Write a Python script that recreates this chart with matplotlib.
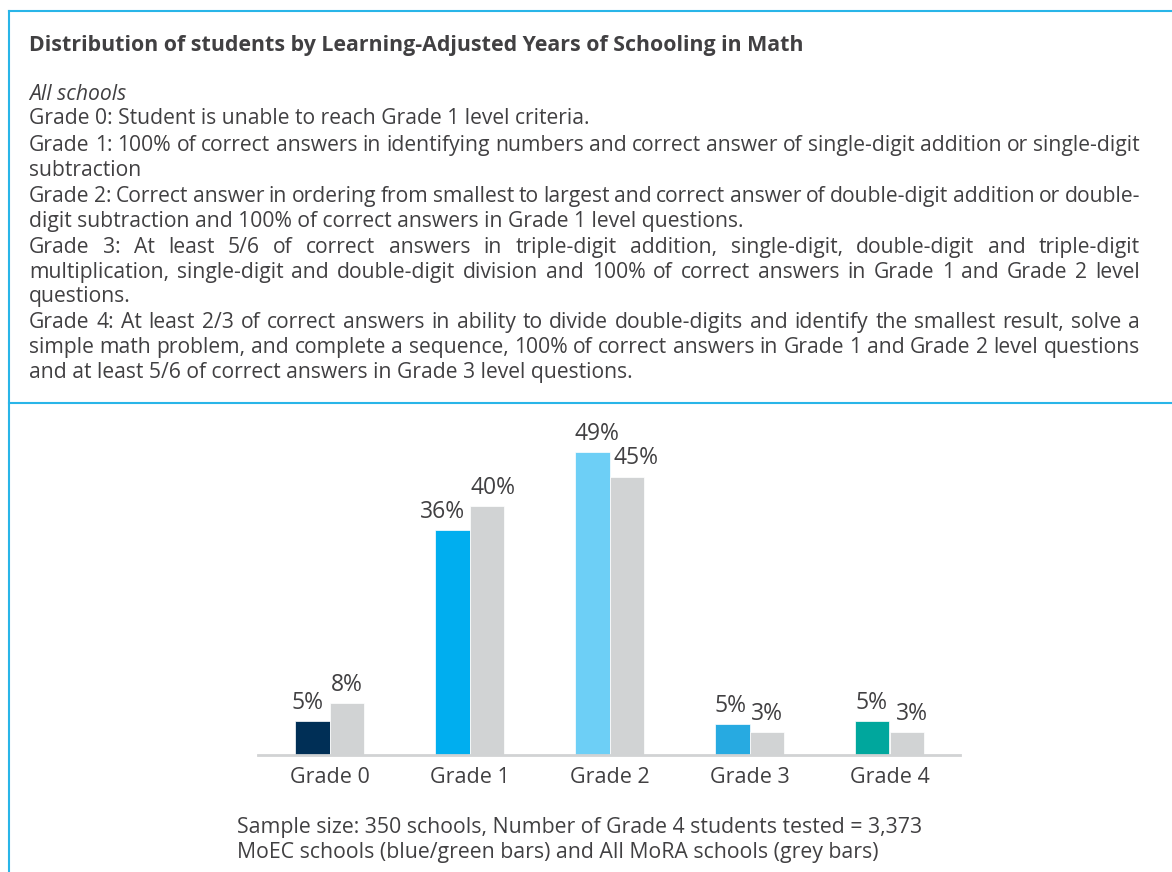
"""
Distribution of students by Learning-Adjusted Years of Schooling in Math.
Boxed header with justified definitions, grouped bar chart below.
"""

import matplotlib
matplotlib.use("Agg")
import matplotlib.pyplot as plt
import numpy as np
from matplotlib.lines import Line2D

# ----------------------------------------------------------------------------
# Data
# ----------------------------------------------------------------------------
categories = ["Grade 0", "Grade 1", "Grade 2", "Grade 3", "Grade 4"]
moec_values = [5.5, 36.4, 49.0, 5.0, 5.5]
mora_values = [8.4, 40.3, 45.0, 3.7, 3.7]
moec_labels = ["5%", "36%", "49%", "5%", "5%"]
mora_labels = ["8%", "40%", "45%", "3%", "3%"]
moec_colors = ["#002F56", "#00AEEF", "#6DCFF6", "#27AAE1", "#00A79D"]
mora_color = "#D1D3D4"

title = "Distribution of students by Learning-Adjusted Years of Schooling in Math"
subtitle = "All schools"
# (line, justified?)
definition_lines = [
    ("Grade 0: Student is unable to reach Grade 1 level criteria.", False),
    ("Grade 1: 100% of correct answers in identifying numbers and correct answer of single-digit addition or single-digit", True),
    ("subtraction", False),
    ("Grade 2: Correct answer in ordering from smallest to largest and correct answer of double-digit addition or double-", True),
    ("digit subtraction and 100% of correct answers in Grade 1 level questions.", False),
    ("Grade 3: At least 5/6 of correct answers in triple-digit addition, single-digit, double-digit and triple-digit", True),
    ("multiplication, single-digit and double-digit division and 100% of correct answers in Grade 1 and Grade 2 level", True),
    ("questions.", False),
    ("Grade 4: At least 2/3 of correct answers in ability to divide double-digits and identify the smallest result, solve a", True),
    ("simple math problem, and complete a sequence, 100% of correct answers in Grade 1 and Grade 2 level questions", True),
    ("and at least 5/6 of correct answers in Grade 3 level questions.", False),
]
notes = [
    "Sample size: 350 schools, Number of Grade 4 students tested = 3,373",
    "MoEC schools (blue/green bars) and All MoRA schools (grey bars)",
]

# ----------------------------------------------------------------------------
# Figure setup (pixel helpers)
# ----------------------------------------------------------------------------
W, H = 1172, 872
plt.rcParams["font.family"] = ["Open Sans", "DejaVu Sans"]
TEXT = "#414042"
BORDER = "#29B5E8"

fig = plt.figure(figsize=(W / 100, H / 100), dpi=100)
fig.patch.set_facecolor("white")


def fx(x):
    return x / W


def fy(y):
    return 1 - y / H


# box frame
fig.add_artist(Line2D([fx(9), 1], [fy(11), fy(11)], color=BORDER, lw=1.5))
fig.add_artist(Line2D([fx(9), fx(9)], [fy(11), 0], color=BORDER, lw=1.5))
fig.add_artist(Line2D([fx(9), 1], [fy(403), fy(403)], color=BORDER, lw=1.5))

# ----------------------------------------------------------------------------
# Header text
# ----------------------------------------------------------------------------
BODY_FS = 15.2
LEFT, RIGHT = 29, 1140

fig.text(fx(LEFT), fy(51), title, fontsize=15.4, fontweight="bold",
         color=TEXT, va="baseline")
fig.text(fx(LEFT), fy(100), subtitle, fontsize=BODY_FS, style="italic",
         color=TEXT, va="baseline")

renderer = fig.canvas.get_renderer()
baselines = [124, 151, 176, 202, 227, 253, 278, 302, 328, 353, 378]

for (line, justified), base in zip(definition_lines, baselines):
    if not justified:
        fig.text(fx(LEFT), fy(base), line, fontsize=BODY_FS, color=TEXT,
                 va="baseline")
        continue
    # justified: place word by word, spreading the gaps to the right margin
    words = line.split(" ")
    artists = [fig.text(0, fy(base), w, fontsize=BODY_FS, color=TEXT,
                        va="baseline") for w in words]
    widths = [a.get_window_extent(renderer).width for a in artists]
    gap = (RIGHT - LEFT - sum(widths)) / (len(words) - 1)
    x = LEFT
    for a, w in zip(artists, widths):
        a.set_x(fx(x))
        x += w + gap

# ----------------------------------------------------------------------------
# Bar chart
# ----------------------------------------------------------------------------
px_per_pct = 303 / 49
ax = fig.add_axes([fx(258), fy(755), (960 - 258) / W, (755 - 420) / H])

x = np.arange(len(categories))
width = 0.243
b1 = ax.bar(x - width / 2, moec_values, width, color=moec_colors,
            edgecolor="white", linewidth=0.5)
b2 = ax.bar(x + width / 2, mora_values, width, color=mora_color,
            edgecolor="white", linewidth=0.5)

# small horizontal nudges (px) so neighbouring labels don't collide
moec_dx = [-5, -10, 4, -2, -1]
mora_dx = [0, 6, 9, 0, 5]
for bars, labels, nudges in ((b1, moec_labels, moec_dx), (b2, mora_labels, mora_dx)):
    for bar, lab, dx in zip(bars, labels, nudges):
        ax.annotate(lab, (bar.get_x() + bar.get_width() / 2, bar.get_height()),
                    xytext=(dx * 0.72, 4.5), textcoords="offset points",
                    ha="center", va="bottom", fontsize=16.5, color=TEXT)

ax.set_xlim(-71.5 / 140, (960 - 329.5) / 140)
ax.set_ylim(0, (755 - 420) / px_per_pct)
ax.set_xticks(x)
ax.set_xticklabels(categories, fontsize=15.5, color=TEXT)
ax.tick_params(axis="x", length=0, pad=8.5)
ax.set_yticks([])
for side in ("top", "left", "right"):
    ax.spines[side].set_visible(False)
ax.spines["bottom"].set_color(mora_color)
ax.spines["bottom"].set_linewidth(2)
ax.patch.set_alpha(0)

# notes under the chart
fig.text(fx(237), fy(833), notes[0], fontsize=15.3, color=TEXT, va="baseline")
fig.text(fx(237), fy(858), notes[1], fontsize=15.3, color=TEXT, va="baseline")

fig.savefig("out.png", dpi=100, facecolor="white")
